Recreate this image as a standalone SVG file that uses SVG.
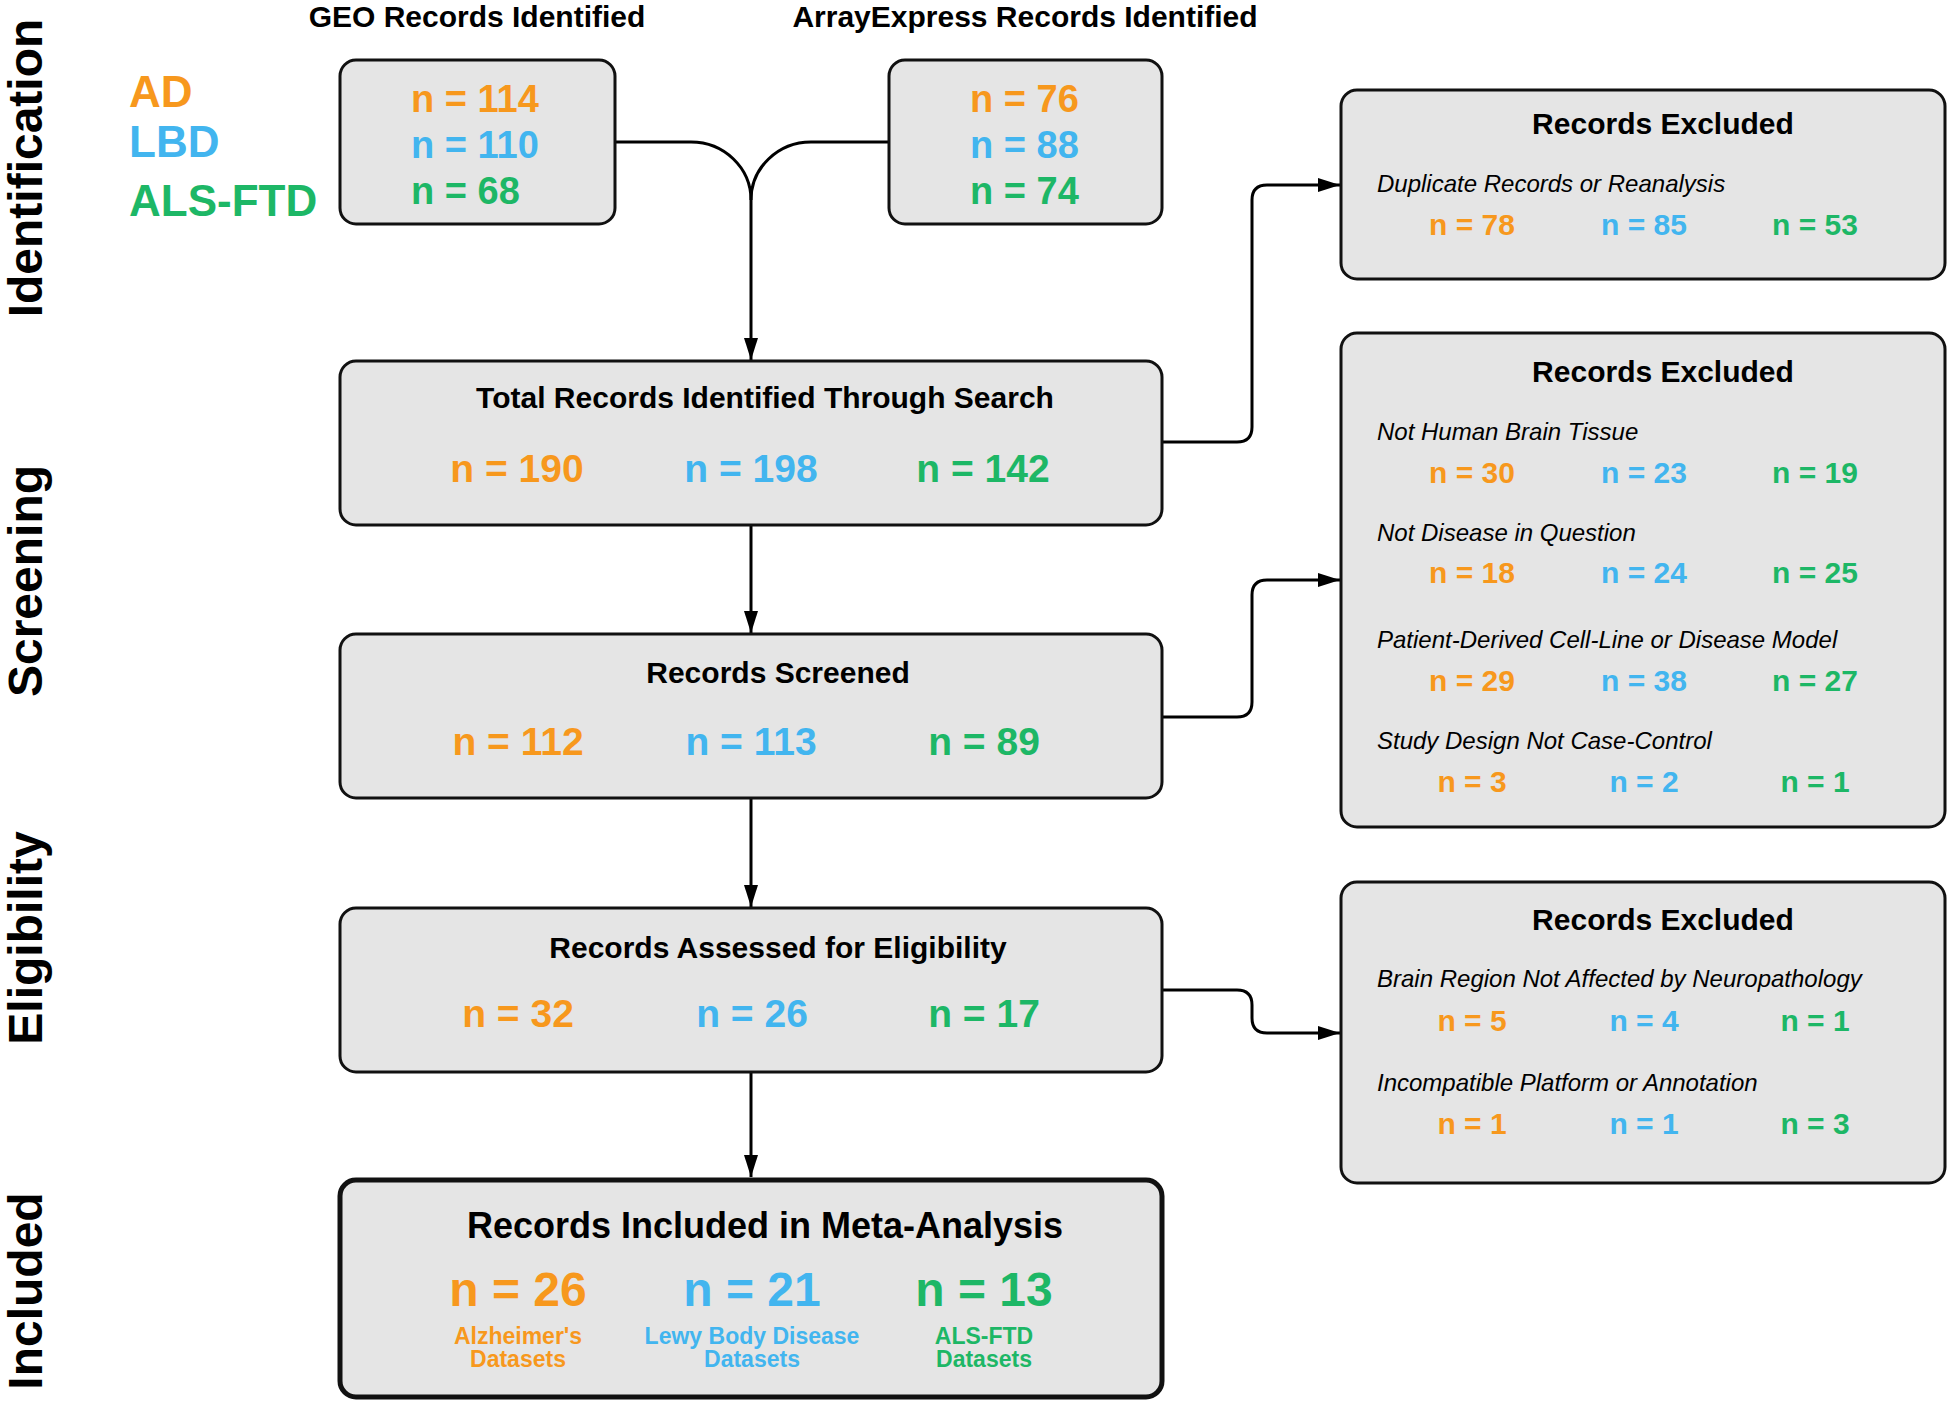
<svg xmlns="http://www.w3.org/2000/svg" width="1950" height="1408" viewBox="0 0 1950 1408">
<defs>
<marker id="arr" viewBox="0 0 22 14" refX="22" refY="7" markerWidth="22" markerHeight="14" markerUnits="userSpaceOnUse" orient="auto">
<path d="M0,0 L22,7 L0,14 Z" fill="#000"/>
</marker>
<style>
text{font-family:"Liberation Sans",Arial,sans-serif;font-weight:bold;}
.box{fill:#E5E5E5;stroke:#111;stroke-width:3;}
.boxb{fill:#E5E5E5;stroke:#111;stroke-width:5;}
.side{font-size:48px;fill:#000;text-anchor:middle;}
.hdr{font-size:30px;fill:#000;text-anchor:middle;}
.ttl{font-size:30px;fill:#000;text-anchor:middle;}
.ttlb{font-size:36px;fill:#000;text-anchor:middle;}
.leg{font-size:44px;}
.num{font-size:39px;text-anchor:middle;}
.num38{font-size:38px;}
.xn{font-size:30px;text-anchor:middle;}
.it{font-size:24px;font-weight:normal;font-style:italic;fill:#000;}
.big{font-size:48px;text-anchor:middle;}
.sub{font-size:23px;text-anchor:middle;}
.o{fill:#F7981D;}
.b{fill:#42B5EF;}
.g{fill:#1DB766;}
.c{fill:none;stroke:#000;stroke-width:3;}
</style>
</defs>
<rect width="1950" height="1408" fill="#fff"/>

<g id="stage-labels">
<text class="side" transform="translate(42,168) rotate(-90)">Identification</text>
<text class="side" transform="translate(42,581) rotate(-90)">Screening</text>
<text class="side" transform="translate(42,938) rotate(-90)">Eligibility</text>
<text class="side" transform="translate(42,1291) rotate(-90)">Included</text>
</g>

<g id="legend">
<text x="129" y="107" class="leg o">AD</text>
<text x="129" y="157" class="leg b">LBD</text>
<text x="129" y="216" class="leg g">ALS-FTD</text>
</g>

<g id="headers">
<text class="hdr" x="477" y="27">GEO Records Identified</text>
<text class="hdr" x="1025" y="27">ArrayExpress Records Identified</text>
</g>

<g id="connectors">
<path class="c" d="M615,142 H691 A60,58 0 0 1 751,200"/>
<path class="c" d="M889,142 H811 A60,58 0 0 0 751,200"/>
<path class="c" d="M751,200 V360" marker-end="url(#arr)"/>
<path class="c" d="M751,525 V633" marker-end="url(#arr)"/>
<path class="c" d="M751,798 V907" marker-end="url(#arr)"/>
<path class="c" d="M751,1072 V1177" marker-end="url(#arr)"/>
<path class="c" d="M1162,442 H1237 Q1252,442 1252,427 V200 Q1252,185 1267,185 H1340" marker-end="url(#arr)"/>
<path class="c" d="M1162,717 H1237 Q1252,717 1252,702 V595 Q1252,580 1267,580 H1340" marker-end="url(#arr)"/>
<path class="c" d="M1162,990 H1237 Q1252,990 1252,1005 V1018 Q1252,1033 1267,1033 H1340" marker-end="url(#arr)"/>
</g>

<g id="geo">
<rect class="box" x="340" y="60" width="275" height="164" rx="16"/>
<text class="num38 o" x="411" y="112">n = 114</text>
<text class="num38 b" x="411" y="158">n = 110</text>
<text class="num38 g" x="411" y="204">n = 68</text>
</g>

<g id="arrayexpress">
<rect class="box" x="889" y="60" width="273" height="164" rx="16"/>
<text class="num38 o" x="970" y="112">n = 76</text>
<text class="num38 b" x="970" y="158">n = 88</text>
<text class="num38 g" x="970" y="204">n = 74</text>
</g>

<g id="total">
<rect class="box" x="340" y="361" width="822" height="164" rx="16"/>
<text class="ttl" x="765" y="408">Total Records Identified Through Search</text>
<text class="num o" x="517" y="482">n = 190</text>
<text class="num b" x="751" y="482">n = 198</text>
<text class="num g" x="983" y="482">n = 142</text>
</g>

<g id="screened">
<rect class="box" x="340" y="634" width="822" height="164" rx="16"/>
<text class="ttl" x="778" y="683">Records Screened</text>
<text class="num o" x="518" y="755">n = 112</text>
<text class="num b" x="751" y="755">n = 113</text>
<text class="num g" x="984" y="755">n = 89</text>
</g>

<g id="eligibility">
<rect class="box" x="340" y="908" width="822" height="164" rx="16"/>
<text class="ttl" x="778" y="958">Records Assessed for Eligibility</text>
<text class="num o" x="518" y="1027">n = 32</text>
<text class="num b" x="752" y="1027">n = 26</text>
<text class="num g" x="984" y="1027">n = 17</text>
</g>

<g id="included">
<rect class="boxb" x="340" y="1180" width="822" height="217" rx="16"/>
<text class="ttlb" x="765" y="1238">Records Included in Meta-Analysis</text>
<text class="big o" x="518" y="1306">n = 26</text>
<text class="big b" x="752" y="1306">n = 21</text>
<text class="big g" x="984" y="1306">n = 13</text>
<text class="sub o" x="518" y="1344">Alzheimer's</text>
<text class="sub o" x="518" y="1367">Datasets</text>
<text class="sub b" x="752" y="1344">Lewy Body Disease</text>
<text class="sub b" x="752" y="1367">Datasets</text>
<text class="sub g" x="984" y="1344">ALS-FTD</text>
<text class="sub g" x="984" y="1367">Datasets</text>
</g>

<g id="excluded-1">
<rect class="box" x="1341" y="90" width="604" height="189" rx="16"/>
<text class="hdr" x="1663" y="134">Records Excluded</text>
<text class="it" x="1377" y="192">Duplicate Records or Reanalysis</text>
<text class="xn o" x="1472" y="235">n = 78</text>
<text class="xn b" x="1644" y="235">n = 85</text>
<text class="xn g" x="1815" y="235">n = 53</text>
</g>

<g id="excluded-2">
<rect class="box" x="1341" y="333" width="604" height="494" rx="16"/>
<text class="hdr" x="1663" y="382">Records Excluded</text>
<text class="it" x="1377" y="440">Not Human Brain Tissue</text>
<text class="xn o" x="1472" y="483">n = 30</text>
<text class="xn b" x="1644" y="483">n = 23</text>
<text class="xn g" x="1815" y="483">n = 19</text>
<text class="it" x="1377" y="541">Not Disease in Question</text>
<text class="xn o" x="1472" y="583">n = 18</text>
<text class="xn b" x="1644" y="583">n = 24</text>
<text class="xn g" x="1815" y="583">n = 25</text>
<text class="it" x="1377" y="648">Patient-Derived Cell-Line or Disease Model</text>
<text class="xn o" x="1472" y="691">n = 29</text>
<text class="xn b" x="1644" y="691">n = 38</text>
<text class="xn g" x="1815" y="691">n = 27</text>
<text class="it" x="1377" y="749">Study Design Not Case-Control</text>
<text class="xn o" x="1472" y="792">n = 3</text>
<text class="xn b" x="1644" y="792">n = 2</text>
<text class="xn g" x="1815" y="792">n = 1</text>
</g>

<g id="excluded-3">
<rect class="box" x="1341" y="882" width="604" height="301" rx="16"/>
<text class="hdr" x="1663" y="930">Records Excluded</text>
<text class="it" x="1377" y="987">Brain Region Not Affected by Neuropathology</text>
<text class="xn o" x="1472" y="1031">n = 5</text>
<text class="xn b" x="1644" y="1031">n = 4</text>
<text class="xn g" x="1815" y="1031">n = 1</text>
<text class="it" x="1377" y="1091">Incompatible Platform or Annotation</text>
<text class="xn o" x="1472" y="1134">n = 1</text>
<text class="xn b" x="1644" y="1134">n = 1</text>
<text class="xn g" x="1815" y="1134">n = 3</text>
</g>
</svg>
